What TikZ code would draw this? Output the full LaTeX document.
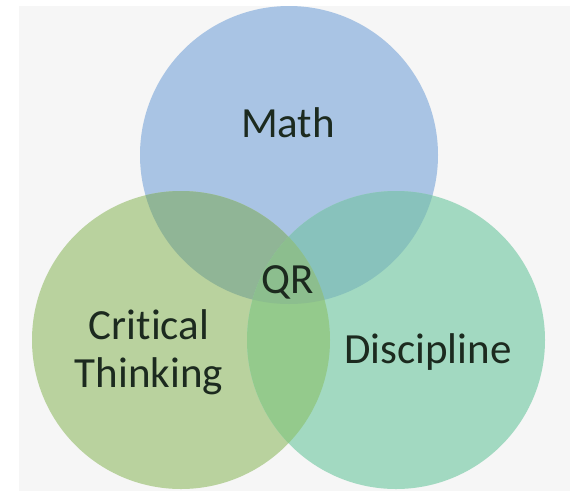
\documentclass[tikz,border=0pt]{standalone}
\usepackage{fontspec}
\setmainfont{Carlito}[Ligatures=NoCommon]
\definecolor{bggrey}{HTML}{F6F6F6}
\definecolor{mathblue}{HTML}{A9C4E4}
\definecolor{critgreen}{HTML}{B9D29E}
\definecolor{discmint}{HTML}{A2D9C1}
\definecolor{mathcrit}{HTML}{90B596}
\definecolor{mathdisc}{HTML}{88C2BC}
\definecolor{critdisc}{HTML}{94CA8C}
\definecolor{qrgreen}{HTML}{8CBE8E}
\definecolor{labeltext}{HTML}{1C2A1F}

\begin{document}
\begin{tikzpicture}[x=1pt,y=-1pt,
  lbl/.style={font=\fontsize{43}{48}\selectfont,text=labeltext,align=center,inner sep=0pt}]
  \useasboundingbox (0,0) rectangle (570,491);
  \fill[white] (0,0) rectangle (570,491);
  \fill[bggrey] (19,6) rectangle (570,491);
  % Mittelpunkte
  \coordinate (math) at (289,155);
  \coordinate (crit) at (181,340);
  \coordinate (disc) at (396,340);
  \def\rad{149pt}
  % Kreise
  \fill[mathblue] (math) circle (\rad);
  \fill[critgreen] (crit) circle (\rad);
  \fill[discmint] (disc) circle (\rad);
  % Schnittmengen
  \begin{scope}
    \clip (math) circle (\rad);
    \fill[mathcrit] (crit) circle (\rad);
    \fill[mathdisc] (disc) circle (\rad);
  \end{scope}
  \begin{scope}
    \clip (crit) circle (\rad);
    \fill[critdisc] (disc) circle (\rad);
    \clip (disc) circle (\rad);
    \fill[qrgreen] (math) circle (\rad);
  \end{scope}
  % Beschriftungen
  \node[lbl,anchor=base] (mathlabel) at (288,137) {Math};
  \node[lbl] (critlabel) at (149,352) {Critical\\Thinking};
  \node[lbl,anchor=base] (disclabel) at (428,363) {Discipline};
  \node[lbl,anchor=base] (qrlabel) at (288,293) {QR};
\end{tikzpicture}
\end{document}
